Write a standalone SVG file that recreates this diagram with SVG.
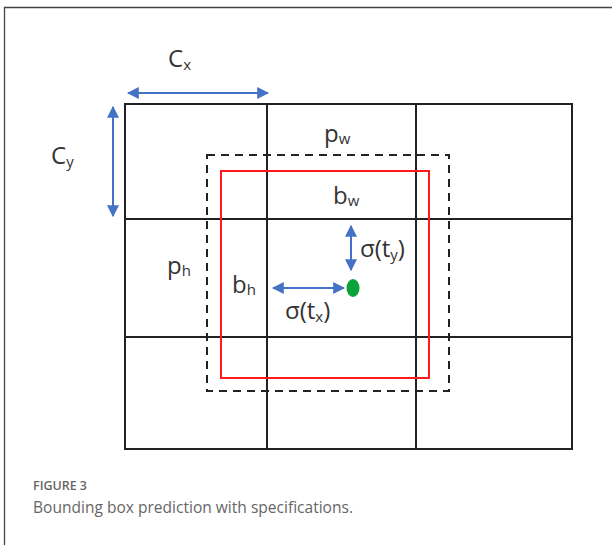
<svg xmlns="http://www.w3.org/2000/svg" width="612" height="545" viewBox="0 0 612 545">
<style>
.grid{fill:none;stroke:#222;stroke-width:2}
.dash{fill:none;stroke:#222;stroke-width:2;stroke-dasharray:8 6}
.red{fill:none;stroke:#ff1a1a;stroke-width:2}
.arr{stroke:#4472c4;stroke-width:2;fill:none;marker-start:url(#ah);marker-end:url(#ah)}
.lbl{font-family:"Open Sans","Liberation Sans",sans-serif;font-size:24px;fill:#333}
.sub{font-size:15px}
.cap1{font-family:"Open Sans","Liberation Sans",sans-serif;font-size:13px;font-weight:600;fill:#666}
.cap2{font-family:"Open Sans","Liberation Sans",sans-serif;font-size:17px;fill:#666}
</style>
<defs>
<marker id="ah" viewBox="0 0 10 10" refX="9" refY="5" markerWidth="6" markerHeight="6" orient="auto-start-reverse" markerUnits="strokeWidth">
<path d="M0,0 L10,5 L0,10 Z" fill="#4472c4"/>
</marker>
</defs>
<rect width="612" height="545" fill="#fff"/>
<path d="M4.5,545 V7.5 H612" fill="none" stroke="#444" stroke-width="1.3"/>
<g id="grid">
<rect class="grid" x="125" y="104" width="447" height="345"/>
<line class="grid" x1="267" y1="104" x2="267" y2="449"/>
<line class="grid" x1="416" y1="104" x2="416" y2="449"/>
<line class="grid" x1="125" y1="219" x2="572" y2="219"/>
<line class="grid" x1="125" y1="337" x2="572" y2="337"/>
</g>
<g id="prior-box"><rect class="dash" x="207" y="155" width="242" height="236"/></g>
<g id="pred-box"><rect class="red" x="221" y="171" width="208" height="207"/></g>
<g id="center"><ellipse cx="353" cy="288" rx="6.5" ry="9" fill="#0aa33a"/></g>
<g id="connectors">
<line class="arr" x1="128" y1="93" x2="268" y2="93"/>
<line class="arr" x1="113" y1="107" x2="113" y2="216"/>
<line class="arr" x1="351" y1="226" x2="351" y2="270"/>
<line class="arr" x1="273" y1="288" x2="344" y2="288"/>
</g>
<g id="labels">
<text class="lbl" x="168" y="67">C<tspan class="sub" dy="3">x</tspan></text>
<text class="lbl" x="51" y="164">C<tspan class="sub" dy="3">y</tspan></text>
<text class="lbl" x="324" y="142">p<tspan class="sub" dy="2">w</tspan></text>
<text class="lbl" x="333" y="204">b<tspan class="sub" dy="2">w</tspan></text>
<text class="lbl" x="167" y="274">p<tspan class="sub" dy="2">h</tspan></text>
<text class="lbl" x="232" y="293">b<tspan class="sub" dy="2">h</tspan></text>
<text class="lbl" x="360" y="257">σ(t<tspan class="sub" dy="3">y</tspan><tspan dy="-3">)</tspan></text>
<text class="lbl" x="285" y="319">σ(t<tspan class="sub" dy="3">x</tspan><tspan dy="-3">)</tspan></text>
</g>
<g id="caption">
<text class="cap1" x="33" y="490" textLength="54" lengthAdjust="spacingAndGlyphs">FIGURE 3</text>
<text class="cap2" x="33" y="513" textLength="320" lengthAdjust="spacingAndGlyphs">Bounding box prediction with specifications.</text>
</g>
</svg>
